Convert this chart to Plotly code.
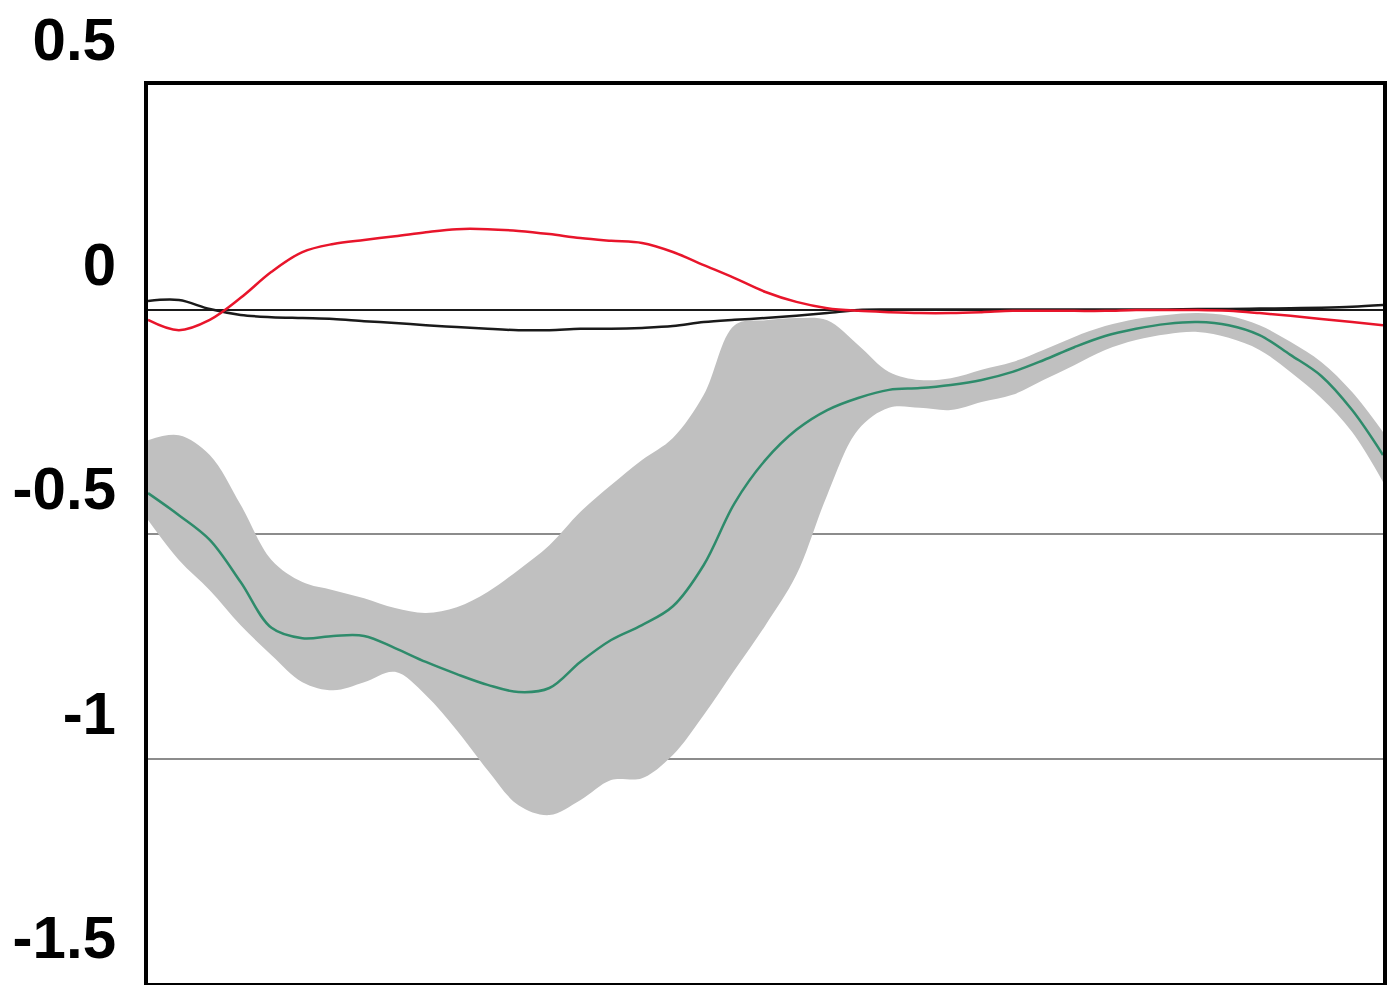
import plotly.graph_objects as go

# gait cycle (%)
x = [0, 2.5, 5, 7.5, 10, 12.5, 15, 17.5, 20, 22.5, 25, 27.5, 30, 32.5, 35, 37.5, 40,
     42.5, 45, 47.5, 50, 52.5, 55, 57.5, 60, 62.5, 65, 67.5, 70, 72.5, 75, 77.5, 80,
     82.5, 85, 87.5, 90, 92.5, 95, 97.5, 100]

mean_y = [-0.409, -0.458, -0.513, -0.607, -0.709, -0.732, -0.727, -0.727, -0.754, -0.785,
          -0.812, -0.836, -0.852, -0.843, -0.785, -0.736, -0.703, -0.661, -0.569, -0.431,
          -0.335, -0.268, -0.224, -0.197, -0.179, -0.175, -0.168, -0.157, -0.139, -0.113,
          -0.084, -0.059, -0.043, -0.032, -0.028, -0.035, -0.057, -0.101, -0.148, -0.224,
          -0.324]

upper_y = [-0.291, -0.280, -0.324, -0.435, -0.558, -0.607, -0.625, -0.643, -0.665, -0.676,
           -0.663, -0.629, -0.580, -0.525, -0.451, -0.391, -0.335, -0.286, -0.190, -0.035,
           -0.024, -0.019, -0.024, -0.079, -0.139, -0.157, -0.153, -0.134, -0.117, -0.090,
           -0.061, -0.037, -0.021, -0.012, -0.008, -0.014, -0.035, -0.072, -0.117, -0.184,
           -0.273]

lower_y = [-0.469, -0.558, -0.625, -0.703, -0.770, -0.830, -0.848, -0.830, -0.807, -0.859,
           -0.937, -1.026, -1.104, -1.126, -1.093, -1.048, -1.044, -0.992, -0.903, -0.803,
           -0.703, -0.591, -0.413, -0.268, -0.219, -0.219, -0.224, -0.206, -0.190, -0.157,
           -0.124, -0.090, -0.068, -0.055, -0.050, -0.063, -0.090, -0.139, -0.197, -0.273,
           -0.384]

red_y = [-0.023, -0.046, -0.023, 0.026, 0.084, 0.128, 0.146, 0.155, 0.163, 0.172,
         0.179, 0.179, 0.175, 0.168, 0.159, 0.153, 0.148, 0.128, 0.099, 0.070,
         0.039, 0.017, 0.003, -0.003, -0.006, -0.008, -0.008, -0.006, -0.003, -0.003,
         -0.003, -0.003, -0.001, -0.001, -0.001, -0.003, -0.008, -0.014, -0.021, -0.028,
         -0.035]

black_y = [0.019, 0.021, 0.001, -0.012, -0.017, -0.019, -0.021, -0.026, -0.030, -0.035,
           -0.039, -0.043, -0.046, -0.046, -0.043, -0.043, -0.041, -0.037, -0.028, -0.023,
           -0.019, -0.014, -0.008, -0.001, 0.000, 0.000, 0.000, 0.000, 0.000, 0.000,
           0.000, 0.000, 0.000, 0.000, 0.001, 0.001, 0.002, 0.003, 0.004, 0.006,
           0.010]

tick_vals = [0.5, 0, -0.5, -1, -1.5]
tick_text = ["0.5", "0", "-0.5", "-1", "-1.5"]

fig = go.Figure()
fig.add_trace(go.Scatter(x=x, y=upper_y, mode="lines", line=dict(width=0, shape="spline"),
                         hoverinfo="skip", showlegend=False))
fig.add_trace(go.Scatter(x=x, y=lower_y, mode="lines", line=dict(width=0, shape="spline"),
                         fill="tonexty", fillcolor="#c0c0c0", showlegend=False))
fig.add_trace(go.Scatter(x=x, y=mean_y, mode="lines",
                         line=dict(color="#2e8b6b", width=2.5, shape="spline"), showlegend=False))
fig.add_trace(go.Scatter(x=x, y=black_y, mode="lines",
                         line=dict(color="#1a1a1a", width=2.5, shape="spline"), showlegend=False))
fig.add_trace(go.Scatter(x=x, y=red_y, mode="lines",
                         line=dict(color="#e8152b", width=2.5, shape="spline"), showlegend=False))

fig.update_layout(
    width=1395, height=985,
    margin=dict(l=148, r=12, t=85, b=2),
    paper_bgcolor="white", plot_bgcolor="white",
    showlegend=False,
)
fig.update_xaxes(range=[0, 100], showgrid=False, zeroline=False, showticklabels=False,
                 showline=True, mirror=True, linecolor="black", linewidth=4, ticks="")
fig.update_yaxes(range=[-1.5, 0.5], tickvals=tick_vals, ticktext=tick_text,
                 showgrid=True, gridcolor="#8c8c8c", gridwidth=1.5,
                 zeroline=True, zerolinecolor="#1a1a1a", zerolinewidth=2,
                 showline=True, mirror=True, linecolor="black", linewidth=4, ticks="",
                 tickfont=dict(family="Liberation Sans", size=60, color="black", weight="bold"),
                 ticklabelshift=-46, ticklabelstandoff=16)

fig.write_html("out.html")
